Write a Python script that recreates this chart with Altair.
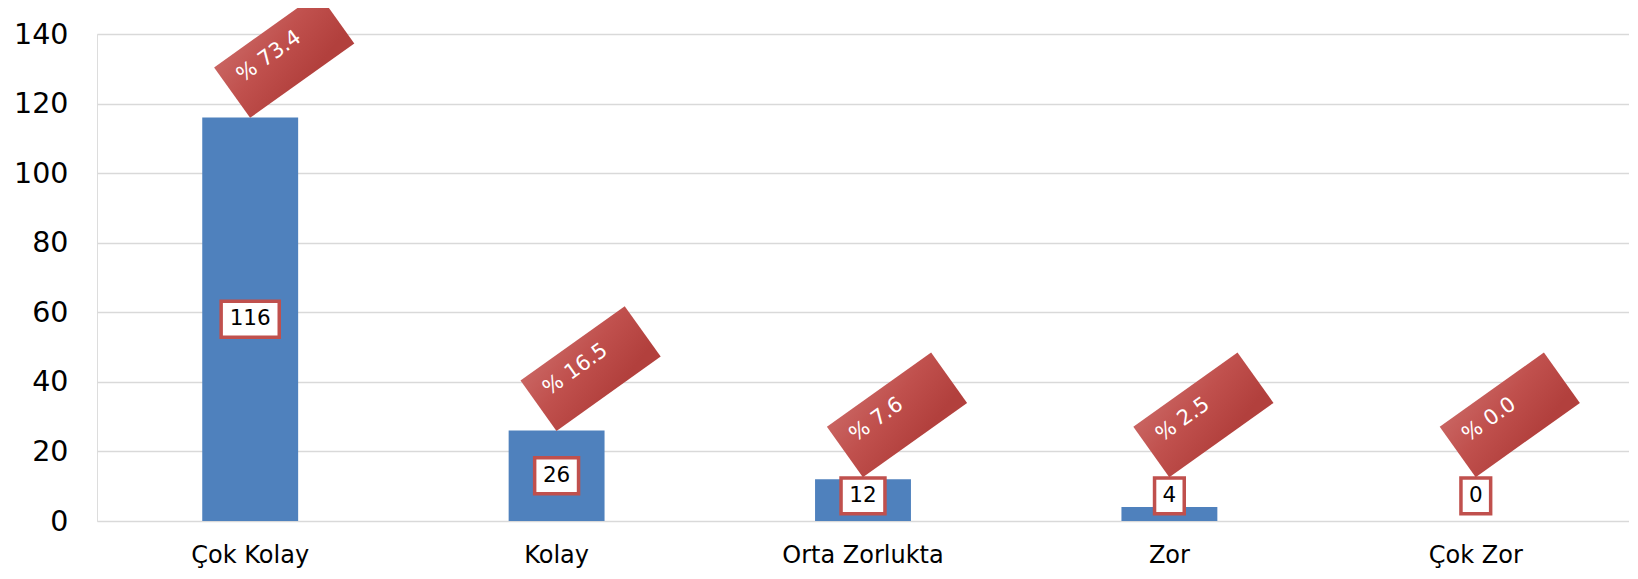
import altair as alt
import pandas as pd

categories = ["Çok Kolay", "Kolay", "Orta Zorlukta", "Zor", "Çok Zor"]
counts = [116, 26, 12, 4, 0]
percent_labels = ["% 73.4", "% 16.5", "% 7.6", "% 2.5", "% 0.0"]

df = pd.DataFrame({"cat": categories, "n": counts, "pct": percent_labels})

RED = "#c0504d"
BLUE = "#4f81bd"
FONT = "DejaVu Sans"

x_enc = alt.X(
    "cat:N",
    sort=categories,
    title=None,
    scale=alt.Scale(paddingInner=0.687, paddingOuter=0.3435),
    axis=alt.Axis(labelAngle=0, labelFont=FONT, labelFontSize=24, labelColor="black",
                  ticks=False, tickSize=0, domain=False, labelPadding=22, grid=False),
)
y_scale = alt.Scale(domain=[0, 140], nice=False)

base = alt.Chart(df).transform_calculate(
    labY="max(datum.n / 2, 7.2)",
    tipY="max(datum.n, 12.7)",
    hw="(15.5 + 14.2 * length(toString(datum.n))) / 64",
).transform_calculate(
    box="'M -' + datum.hw + ' -0.56 L ' + datum.hw + ' -0.56 L ' + datum.hw + ' 0.56 L -' + datum.hw + ' 0.56 Z'"
)

bars = base.mark_bar(color=BLUE).encode(
    x=x_enc,
    y=alt.Y("n:Q", scale=y_scale, title=None,
            axis=alt.Axis(values=[0, 20, 40, 60, 80, 100, 120, 140], labelFont=FONT,
                          labelFontSize=28.5, labelColor="black", ticks=False, tickSize=0,
                          domain=False, labelPadding=29, grid=True, gridColor="#d9d9d9",
                          gridWidth=1.6)),
)

boxes = base.mark_point(filled=True, fill="white", stroke=RED, strokeWidth=3.5,
                        opacity=1, size=4096).encode(
    x=alt.X("cat:N", sort=categories),
    y=alt.Y("labY:Q", scale=y_scale, title=None),
    shape=alt.Shape("box:N", scale=None, legend=None),
)

vals = base.mark_text(font=FONT, fontSize=21.5, color="black", baseline="middle").encode(
    x=alt.X("cat:N", sort=categories),
    y=alt.Y("labY:Q", scale=y_scale, title=None),
    text=alt.Text("n:Q"),
)

grad = {
    "gradient": "linear",
    "x1": 0, "y1": 0, "x2": 0.6, "y2": 1,
    "stops": [
        {"offset": 0, "color": "#c96461"},
        {"offset": 0.45, "color": "#c0504d"},
        {"offset": 1, "color": "#b2403d"},
    ],
}

callouts = base.mark_point(
    shape="M -1 -0.484 L 1 -0.484 L 1 0.484 L -1 0.484 Z",
    size=16384, angle=324.5, filled=True, fill=grad, strokeWidth=0, opacity=1,
    xOffset=34, yOffset=-62,
).encode(
    x=alt.X("cat:N", sort=categories),
    y=alt.Y("tipY:Q", scale=y_scale, title=None),
)

pcts = base.mark_text(
    font=FONT, fontSize=21, color="white", angle=324.5, align="left", baseline="middle",
    xOffset=-11, yOffset=-39.5,
).encode(
    x=alt.X("cat:N", sort=categories),
    y=alt.Y("tipY:Q", scale=y_scale, title=None),
    text="pct:N",
)

chart = alt.layer(bars, boxes, vals, callouts, pcts).properties(
    width=1532, height=487,
    padding={"left": 89, "top": 26, "right": 0, "bottom": 48},
    autosize="none",
).configure_view(stroke=None).configure(background="white")

chart.save("out.html", embed_options={"renderer": "svg", "actions": False})
